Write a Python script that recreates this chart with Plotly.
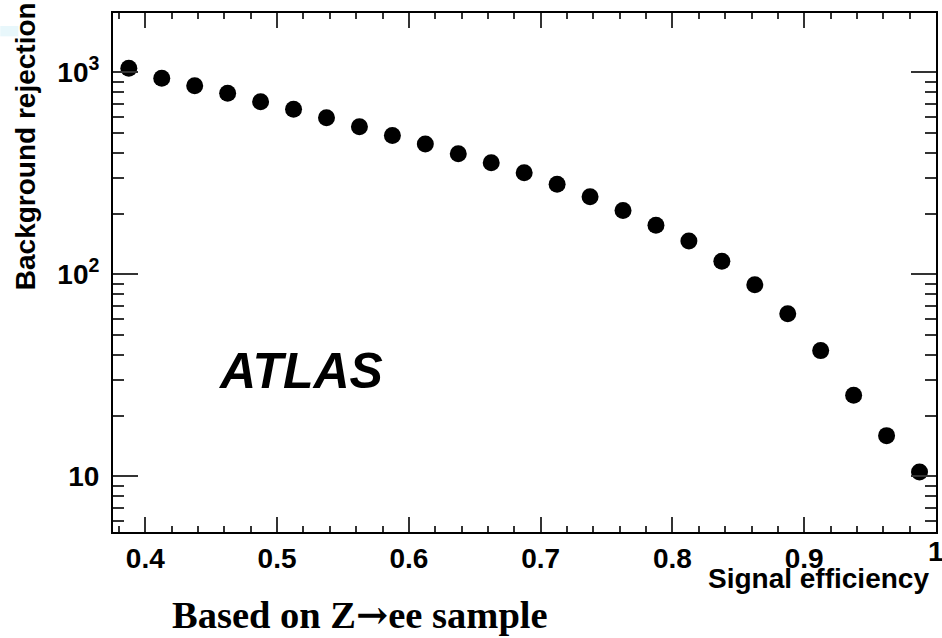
import plotly.graph_objects as go

# Data
signal_eff = [0.3875, 0.4125, 0.4375, 0.4625, 0.4875, 0.5125, 0.5375, 0.5625,
              0.5875, 0.6125, 0.6375, 0.6625, 0.6875, 0.7125, 0.7375, 0.7625,
              0.7875, 0.8125, 0.8375, 0.8625, 0.8875, 0.9125, 0.9375, 0.9625,
              0.9875]
bkg_rejection = [1047, 934, 859, 787, 715, 656, 596, 538,
                 487, 442, 395, 357, 318, 279, 242, 207,
                 175, 146, 116, 88.8, 63.8, 41.9, 25.2, 15.9,
                 10.5]

y_major_vals = [10, 100, 1000]
y_major_text = ["10", "10<sup>2</sup>", "10<sup>3</sup>"]
y_minor_vals = [d * 10 ** k for k in range(0, 4) for d in range(2, 10)]

x_tick_vals = [0.4, 0.5, 0.6, 0.7, 0.8, 0.9]
x_tick_text = ["0.4", "0.5", "0.6", "0.7", "0.8", "0.9"]
x_last_tick = 1.0
x_last_text = "1"

FONT = "Liberation Sans, Arial, sans-serif"
TICKFONT = dict(family=FONT, size=28, color="black", weight="bold")

fig = go.Figure()
fig.add_trace(go.Scatter(
    x=signal_eff, y=bkg_rejection, mode="markers",
    marker=dict(symbol="circle", size=17, color="black"),
    showlegend=False, hoverinfo="skip",
))

fig.update_layout(
    width=942, height=638,
    margin=dict(l=113, r=4, t=13, b=106),
    paper_bgcolor="white", plot_bgcolor="white",
    font=dict(family=FONT, color="black"),
    xaxis=dict(
        range=[0.3755, 1.0], showgrid=False, zeroline=False,
        showline=True, linecolor="black", linewidth=2, mirror="allticks",
        ticks="inside", ticklen=15, tickwidth=2, tickcolor="#333",
        tickvals=x_tick_vals, ticktext=x_tick_text,
        tickfont=TICKFONT,
        ticklabelstandoff=0,
        minor=dict(dtick=0.02, tick0=0.0, ticks="inside", ticklen=6,
                   tickwidth=2, tickcolor="#333"),
    ),
    yaxis=dict(
        type="log", range=[0.7243, 3.2936], showgrid=False, zeroline=False,
        showline=True, linecolor="black", linewidth=2, mirror="allticks",
        ticks="inside", ticklen=25, tickwidth=2, tickcolor="#333",
        tickvals=y_major_vals, ticktext=y_major_text,
        tickfont=TICKFONT,
        ticklabelstandoff=6,
        minor=dict(tickvals=y_minor_vals, ticks="inside", ticklen=11,
                   tickwidth=2, tickcolor="#333"),
    ),
    shapes=[
        dict(type="rect", xref="paper", yref="paper",
             x0=-0.137, x1=-0.115, y0=0.955, y1=0.975,
             fillcolor="#e8f7fb", line=dict(width=0), layer="below"),
    ],
    annotations=[
        dict(text="<b>" + x_last_text + "</b>", xref="x", yref="paper",
             x=x_last_tick, y=-0.037, showarrow=False,
             xanchor="center", yanchor="middle",
             font=dict(family=FONT, size=28, color="black")),
        dict(text="<b>Background rejection</b>", xref="paper", yref="paper",
             x=-0.1067, y=0.7437, textangle=-90, showarrow=False,
             xanchor="center", yanchor="middle",
             font=dict(family=FONT, size=28, color="black")),
        dict(text="<b>Signal efficiency</b>", xref="paper", yref="paper",
             x=0.9939, y=-0.089, showarrow=False,
             xanchor="right", yanchor="middle",
             font=dict(family=FONT, size=28, color="black")),
        dict(text="<b><i>ATLAS</i></b>", xref="paper", yref="paper",
             x=0.2279, y=0.3102, showarrow=False,
             xanchor="center", yanchor="middle",
             font=dict(family=FONT, size=50, color="black")),
        dict(text="<b>Based on Z<span style='font-family:DejaVu Serif'>\u2192</span>ee sample</b>",
             xref="paper", yref="paper",
             x=0.3006, y=-0.158, showarrow=False,
             xanchor="center", yanchor="middle",
             font=dict(family="Liberation Serif, Times New Roman, serif",
                       size=38.5, color="black")),
    ],
)

fig.write_html("out.html")
